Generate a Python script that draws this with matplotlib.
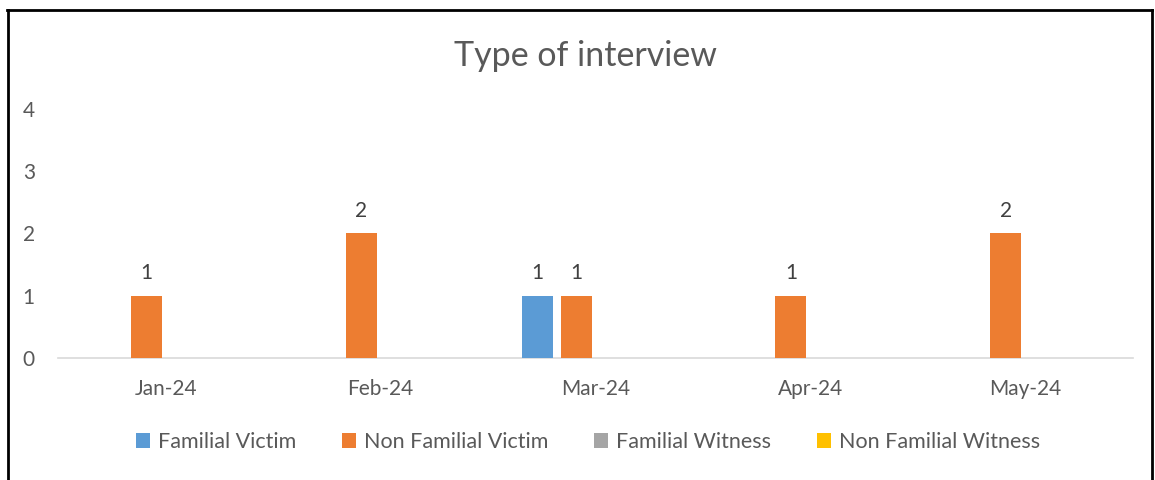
import matplotlib.pyplot as plt
import numpy as np
from matplotlib.lines import Line2D

plt.rcParams['font.family'] = ['Lato', 'DejaVu Sans']

months = ['Jan-24', 'Feb-24', 'Mar-24', 'Apr-24', 'May-24']
series = ['Familial Victim', 'Non Familial Victim', 'Familial Witness', 'Non Familial Witness']
familial_victim = [0, 0, 1, 0, 0]
non_familial_victim = [1, 2, 1, 1, 2]
familial_witness = [0, 0, 0, 0, 0]
non_familial_witness = [0, 0, 0, 0, 0]
colors = ['#5b9bd5', '#ed7d31', '#a5a5a5', '#ffc000']

text_color = '#595959'

fig = plt.figure(figsize=(11.55, 4.8), dpi=100)
ax = fig.add_axes([0.0506, 0.2542, 0.93, 0.5188])

x = np.arange(len(months))
step = 0.181
width = 0.144
all_values = [familial_victim, non_familial_victim, familial_witness, non_familial_witness]
for i, (name, vals) in enumerate(zip(series, all_values)):
    offs = (i - 1.5) * step
    bars = ax.bar(x + offs, vals, width, color=colors[i], label=name, zorder=3)
    # Excel hides the zero labels here, so only show the non-zero ones
    labels = [str(v) if v else '' for v in vals]
    ax.bar_label(bars, labels=labels, padding=9, fontsize=15, color='#404040')

ax.set_xlim(-0.5, len(months) - 0.5)
ax.set_ylim(0, 4)
ax.set_yticks([0, 1, 2, 3, 4])
ax.set_xticks(x)
ax.set_xticklabels(months)
for s in ['top', 'right', 'left']:
    ax.spines[s].set_visible(False)
ax.spines['bottom'].set_color('#d9d9d9')
ax.spines['bottom'].set_linewidth(1.2)
ax.tick_params(axis='both', length=0, labelsize=15, colors=text_color)
ax.tick_params(axis='y', pad=17)
ax.tick_params(axis='x', pad=15)

fig.text(0.5065, 0.883, 'Type of interview', ha='center', va='center',
         fontsize=24.5, color=text_color)

fig.legend(loc='center', bbox_to_anchor=(0.509, 0.079), ncol=4, frameon=False,
           fontsize=15.5, labelcolor=text_color, handlelength=0.65, handleheight=0.65,
           handletextpad=0.35, columnspacing=2.15)

# outer border of the chart box
fig.add_artist(Line2D([7.5 / 1155, 7.5 / 1155], [0, 1 - 10 / 480], color='black', lw=2))
fig.add_artist(Line2D([7 / 1155, 1152 / 1155], [1 - 10 / 480, 1 - 10 / 480], color='black', lw=2))
fig.add_artist(Line2D([1152 / 1155, 1152 / 1155], [0, 1 - 10 / 480], color='black', lw=2))

fig.savefig('out.png', dpi=100)
